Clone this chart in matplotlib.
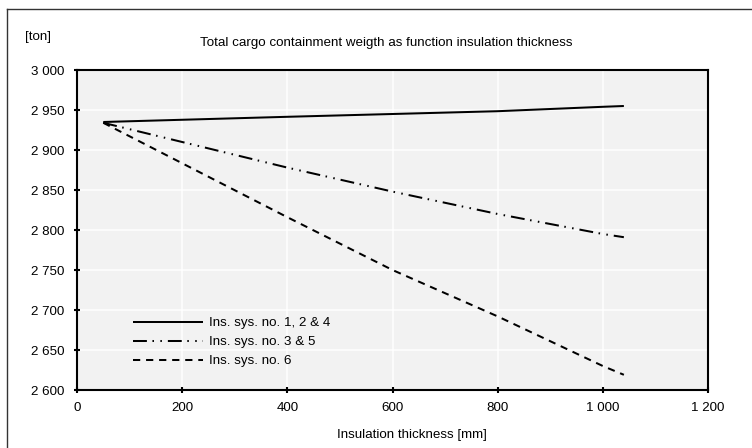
import matplotlib
matplotlib.use("Agg")
import matplotlib.pyplot as plt
from matplotlib.lines import Line2D
from matplotlib.ticker import FuncFormatter

plt.rcParams['font.family'] = ['Liberation Sans', 'DejaVu Sans']
plt.rcParams['lines.scale_dashes'] = False

# Insulation thickness [mm]
thickness = [50, 400, 600, 800, 1000, 1040]
# Total cargo containment weight [ton]
sys_124 = [2935, 2941.5, 2945, 2948.5, 2954, 2955]
sys_35 = [2934, 2878, 2848, 2820, 2795, 2791]
sys_6 = [2934, 2816, 2750, 2692, 2630, 2619]

labels = ["Ins. sys. no. 1, 2 & 4", "Ins. sys. no. 3 & 5", "Ins. sys. no. 6"]
title = "Total cargo containment weigth as function insulation thickness"
xlabel = "Insulation thickness [mm]"
ylabel = "[ton]"

W, H = 752, 448
fig = plt.figure(figsize=(W / 100, H / 100), dpi=100)
ax = fig.add_axes([77 / W, 1 - 390 / H, (708 - 77) / W, (390 - 70) / H])
ax.set_facecolor('#f2f2f2')

fs = 9.6
lw = 1.45
ax.plot(thickness, sys_124, color='black', lw=lw, solid_capstyle='butt', label=labels[0])
ax.plot(thickness, sys_35, color='black', lw=lw,
        linestyle=(0, (10, 4, 1.1, 4.6, 1.1, 4.3)), dash_capstyle='butt', label=labels[1])
ax.plot(thickness, sys_6, color='black', lw=lw,
        linestyle=(0, (5.2, 4.2)), dash_capstyle='butt', label=labels[2])

ax.set_xlim(0, 1200)
ax.set_ylim(2600, 3000)
ax.set_xticks(range(0, 1201, 200))
ax.set_yticks(range(2600, 3001, 50))

def thousands(v, pos):
    return f"{int(round(v)):,}".replace(",", " ")

ax.xaxis.set_major_formatter(FuncFormatter(thousands))
ax.yaxis.set_major_formatter(FuncFormatter(thousands))

ax.grid(True, color='white', lw=1.1)
ax.set_axisbelow(True)
for s in ax.spines.values():
    s.set_linewidth(1.5)
    s.set_color('black')
ax.tick_params(direction='inout', length=4.5, width=1.5, labelsize=fs, color='black')
ax.tick_params(axis='y', pad=7.0)
ax.tick_params(axis='x', pad=6.3)

# handle width ~70 px, text starts ~6 px to the right of it
hl = (70 / 1.389) / fs
htp = (6 / 1.389) / fs
leg = ax.legend(loc='upper left', bbox_to_anchor=(0.0887, 0.228), frameon=False,
                fontsize=fs, borderpad=0, borderaxespad=0, handlelength=hl,
                handletextpad=htp, labelspacing=0.5)

fig.text(386 / W, 1 - 43 / H, title, ha='center', va='center', fontsize=fs)
fig.text(25 / W, 1 - 37 / H, ylabel, ha='left', va='center', fontsize=fs)
fig.text(412 / W, 1 - 434.7 / H, xlabel, ha='center', va='center', fontsize=fs)

# outer frame (top and left edges)
fig.add_artist(Line2D([6.5 / W, 1.0], [1 - 9.5 / H, 1 - 9.5 / H], color='#333333', lw=1.0))
fig.add_artist(Line2D([6.5 / W, 6.5 / W], [0.0, 1 - 9.5 / H], color='#333333', lw=1.0))

fig.savefig("out.png", dpi=100)
